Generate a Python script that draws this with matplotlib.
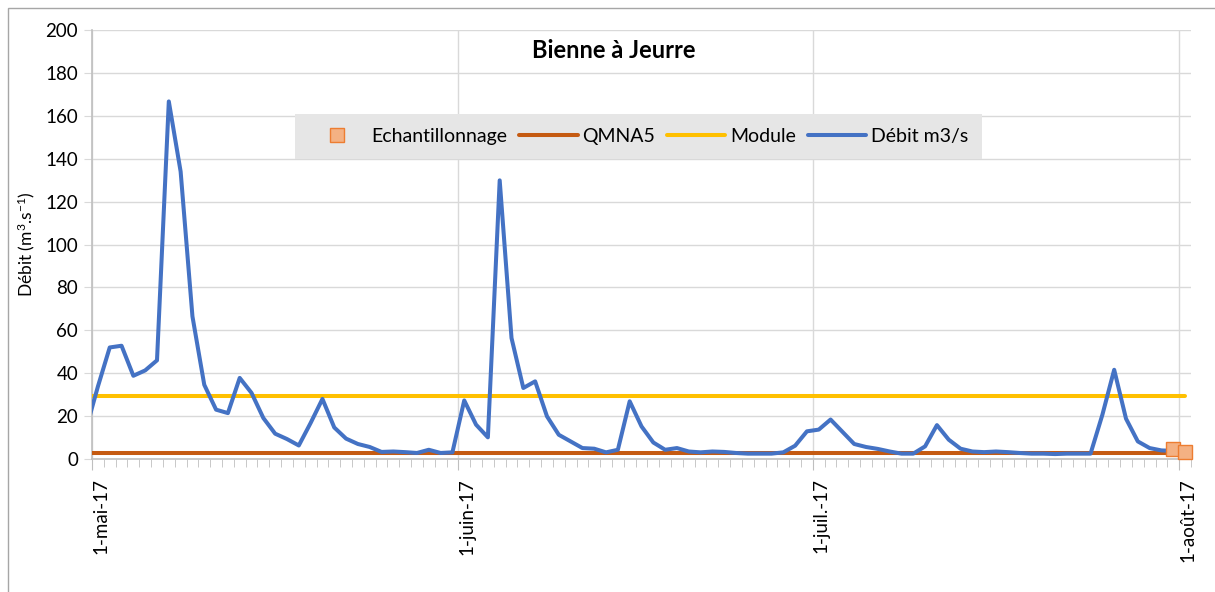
import numpy as np
import pandas as pd
import matplotlib
matplotlib.use('Agg')
import matplotlib.pyplot as plt
import matplotlib.dates as mdates
from matplotlib.patches import Rectangle

plt.rcParams['font.family'] = ['Lato', 'DejaVu Sans']
plt.rcParams['mathtext.fontset'] = 'custom'
plt.rcParams['mathtext.rm'] = 'Lato'
plt.rcParams['mathtext.it'] = 'Lato'

# daily flow (values plotted at noon), from 30 April to 31 July 2017
debit_dates = pd.date_range('2017-04-30 12:00', '2017-07-31 12:00', freq='D')
debit = [
    14.0,
    # mai
    33.8, 52.0, 52.8, 38.8, 41.3, 46.0, 166.7, 134.0, 66.5, 34.6,
    23.0, 21.4, 37.8, 30.8, 19.1, 11.8, 9.3, 6.3, 16.8, 28.0,
    14.7, 9.5, 7.0, 5.6, 3.3, 3.5, 3.2, 2.8, 4.3, 2.8, 3.1,
    # juin
    27.3, 16.0, 10.1, 129.9, 56.4, 33.1, 36.2, 19.9, 11.3, 8.2,
    5.1, 4.8, 3.1, 4.3, 26.9, 15.2, 7.7, 4.3, 5.1, 3.5,
    3.1, 3.5, 3.3, 2.8, 2.5, 2.5, 2.5, 3.1, 6.2, 12.9,
    # juillet
    13.7, 18.4, 12.7, 7.0, 5.6, 4.7, 3.5, 2.5, 2.5, 5.9,
    15.8, 9.0, 4.8, 3.5, 3.2, 3.5, 3.2, 2.8, 2.5, 2.5,
    2.3, 2.5, 2.5, 2.5, 20.6, 41.6, 18.8, 8.2, 5.1, 4.0, 3.8,
]

# reference levels
ref_dates = pd.date_range('2017-04-30 12:00', '2017-08-01 12:00', freq='D')
qmna5 = 2.9
module = 29.2

# sampling
echant_dates = pd.to_datetime(['2017-07-31 12:00', '2017-08-01 12:00'])
echant = [4.5, 3.1]

month_ticks = pd.to_datetime(['2017-05-01', '2017-06-01', '2017-07-01', '2017-08-01'])
month_labels = ['1-mai-17', '1-juin-17', '1-juil.-17', '1-août-17']

fig = plt.figure(figsize=(12.15, 5.92), dpi=100)
ax = fig.add_axes([92 / 1215, 1 - 459 / 592, 1099 / 1215, 429 / 592])

# outer chart border
fig.patches.append(Rectangle((8 / 1215, -0.1), 1.2, 1 - 8 / 592 + 0.1,
                             transform=fig.transFigure, fill=False,
                             edgecolor='#a6a6a6', linewidth=1))

ax.plot(ref_dates, np.full(len(ref_dates), qmna5), color='#C55A11', lw=2.9,
        solid_capstyle='round', label='QMNA5', zorder=3)
ax.plot(ref_dates, np.full(len(ref_dates), module), color='#FFC000', lw=2.9,
        solid_capstyle='round', label='Module', zorder=3)
ax.plot(debit_dates, debit, color='#4472C4', lw=2.9, solid_joinstyle='round',
        solid_capstyle='round', label='Débit m3/s', zorder=4)
ax.plot(echant_dates, echant, ls='none', marker='s', markersize=10.5,
        markerfacecolor='#F4B183', markeredgecolor='#ED7D31', markeredgewidth=1,
        label='Echantillonnage', zorder=5, clip_on=False)

ax.set_xlim(pd.Timestamp('2017-05-01'), pd.Timestamp('2017-08-02'))
ax.set_ylim(0, 200)
ax.set_yticks(np.arange(0, 201, 20))

ax.set_xticks(month_ticks)
ax.set_xticklabels(month_labels, rotation=90, ha='left', va='top', fontsize=13.5)
ax.xaxis.set_minor_locator(mdates.DayLocator())
ax.tick_params(axis='x', which='major', length=8, color='#bfbfbf', pad=6)
ax.tick_params(axis='x', which='minor', length=6, color='#bfbfbf')
ax.tick_params(axis='y', length=6, color='#d9d9d9', labelsize=13.5, pad=4)

ax.grid(True, which='major', color='#d9d9d9', lw=1)
ax.set_axisbelow(True)
for s in ['top', 'right']:
    ax.spines[s].set_visible(False)
for s in ['left', 'bottom']:
    ax.spines[s].set_color('#bfbfbf')
    ax.spines[s].set_linewidth(1.2)

ax.set_ylabel('Débit (m$^{3}$.s$^{-1}$)', fontsize=12.5, labelpad=6)
ax.text(0.475, 0.953, 'Bienne à Jeurre', transform=ax.transAxes, ha='center',
        va='center', fontsize=17, fontweight='bold')

handles, labels = ax.get_legend_handles_labels()
order = [3, 0, 1, 2]
leg = ax.legend([handles[i] for i in order], [labels[i] for i in order],
                loc='center', bbox_to_anchor=(0.497, 0.752), ncol=4,
                fontsize=14, frameon=True, fancybox=False, facecolor='#e6e6e6',
                edgecolor='none', framealpha=1, handlelength=3.0,
                columnspacing=0.6, handletextpad=0.25, borderpad=0.7)
leg.set_zorder(2)

plt.savefig('out.png', dpi=100)
plt.close()
